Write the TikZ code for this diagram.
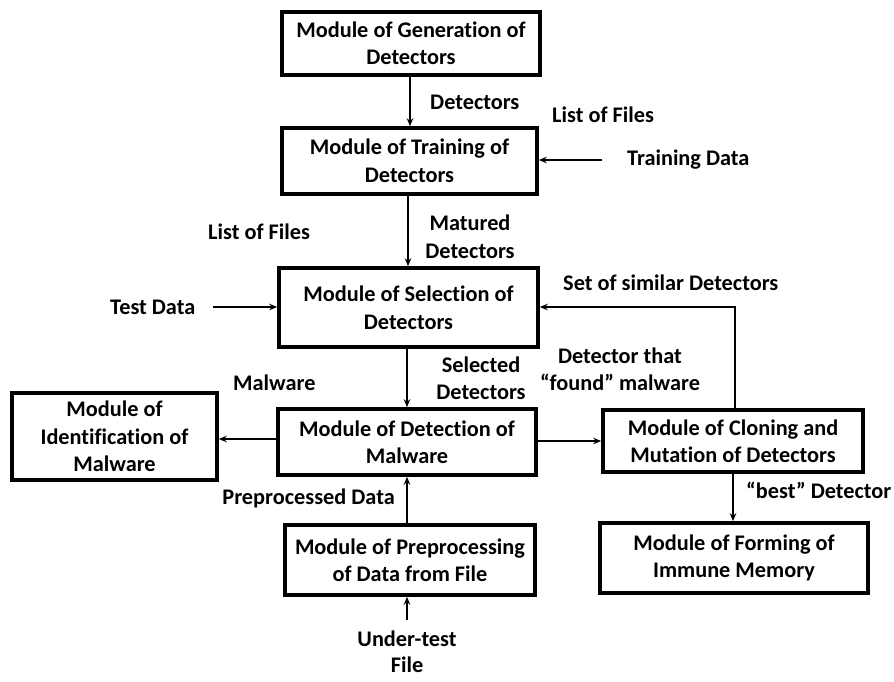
\documentclass[tikz,border=0pt]{standalone}
\usepackage{fontspec}
\setmainfont{Carlito}[Ligatures=NoCommon]
\usetikzlibrary{arrows.meta}
\begin{document}
\begin{tikzpicture}[x=1pt,y=-1pt,
  every node/.style={font=\bfseries\fontsize{22.3}{27.5}\selectfont, align=center, inner sep=0pt},
  mbox/.style={draw, line width=3.6pt, fill=white},
  lbl/.style={},
  conn/.style={line width=1.4pt, -{Stealth[length=8pt,width=6.5pt]}},
  plain/.style={line width=1.4pt}]
\useasboundingbox (0,0) rectangle (894,681);
\fill[white] (0,0) rectangle (894,681);
% boxes
\node[mbox, minimum width=258pt, minimum height=63pt] (gen) at (411,43.5) {Module of Generation of\\Detectors};
\node[mbox, minimum width=255pt, minimum height=66pt] (train) at (409.5,161) {Module of Training of\\Detectors};
\node[mbox, minimum width=259pt, minimum height=79pt] (sel) at (408.5,307.5) {Module of Selection of\\Detectors};
\node[mbox, minimum width=258pt, minimum height=66pt] (det) at (407,442) {Module of Detection of\\Malware};
\node[mbox, minimum width=205pt, minimum height=87pt] (ident) at (114.5,436.5) {Module of\\Identification of\\Malware};
\node[mbox, minimum width=260pt, minimum height=62pt] (clone) at (733,441) {Module of Cloning and\\Mutation of Detectors};
\node[mbox, minimum width=268pt, minimum height=70pt] (form) at (734,558) {Module of Forming of\\Immune Memory};
\node[mbox, minimum width=250pt, minimum height=70pt] (prep) at (410,560) {Module of Preprocessing\\of Data from File};
% free ends
\coordinate (under) at (407,620);
\coordinate (testd) at (213,307);
\coordinate (traind) at (602,160);
\coordinate (fb) at (735,307);
% connectors
\draw[conn] (gen.south -| 410,0) -- (train.north -| 410,0);
\draw[conn] (train.south -| 408,0) -- (sel.north -| 408,0);
\draw[conn] (sel.south -| 407,0) -- (det.north -| 407,0);
\draw[conn] (det.west |- 0,439) -- (ident.east |- 0,439);
\draw[conn] (det.east |- 0,441) -- (clone.west |- 0,441);
\draw[conn] (clone.north -| fb) -- (fb) -- (sel.east |- fb);
\draw[conn] (clone.south -| 733,0) -- (form.north -| 733,0);
\draw[conn] (prep.north -| 407,0) -- (det.south -| 407,0);
\draw[conn] (under) -- (prep.south -| under);
\draw[conn] (testd) -- (sel.west |- testd);
\draw[conn] (traind) -- (train.east |- traind);
% labels
\node[lbl, anchor=west] (l1) at (430,102) {Detectors};
\node[lbl, anchor=west] (l2) at (552,115) {List of Files};
\node[lbl, anchor=west] (l3) at (627,160) {Training Data};
\node[lbl, anchor=west] (l4) at (208,232) {List of Files};
\node[lbl] (l5) at (470,237) {Matured\\Detectors};
\node[lbl, anchor=west] (l6) at (110,307) {Test Data};
\node[lbl, anchor=west] (l7) at (563,283) {Set of similar Detectors};
\node[lbl] (l8) at (481,378) {Selected\\Detectors};
\node[lbl, anchor=west] (l9) at (233,383) {Malware};
\node[lbl] (l10) at (620,369) {Detector that\\“found” malware};
\node[lbl, anchor=east] (l11) at (395,498) {Preprocessed Data};
\node[lbl, anchor=west] (l12) at (746,490) {“best” Detector};
\node[lbl, font=\bfseries\fontsize{22.3}{26}\selectfont] (l13) at (407,652) {Under-test\\File};
\end{tikzpicture}
\end{document}
